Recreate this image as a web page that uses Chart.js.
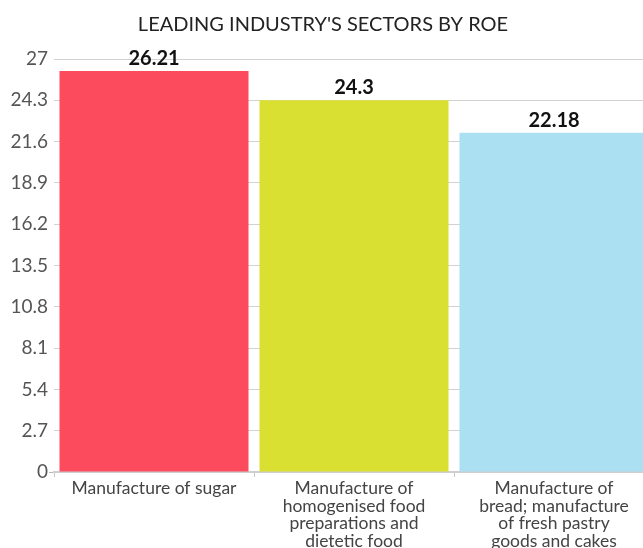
<!DOCTYPE html>
<html>
<head>
<meta charset="utf-8">
<script src="https://cdn.jsdelivr.net/npm/chart.js@4"></script>
<style>
  html, body { margin: 0; padding: 0; background: #fff; overflow: hidden; width: 643px; height: 548px; }
  #wrap { position: absolute; left: -8px; top: 0; width: 662px; height: 560px; }
</style>
</head>
<body>
<div id="wrap"><canvas id="c" width="662" height="560"></canvas></div>
<script>
const titleText = "LEADING INDUSTRY'S SECTORS BY ROE";
const categories = [
  "Manufacture of sugar",
  ["Manufacture of", "homogenised food", "preparations and", "dietetic food"],
  ["Manufacture of", "bread; manufacture", "of fresh pastry", "goods and cakes"]
];
const roeValues = [26.21, 24.3, 22.18];
const barColors = ["#FB4B5C", "#D9E031", "#ABE0F2"];
const yTickValues = [0, 2.7, 5.4, 8.1, 10.8, 13.5, 16.2, 18.9, 21.6, 24.3, 27];
const yTickLabels = ["0", "2.7", "5.4", "8.1", "10.8", "13.5", "16.2", "18.9", "21.6", "24.3", "27"];

const FONT = "Lato, 'Open Sans', sans-serif";

const valueLabels = {
  id: 'valueLabels',
  afterDatasetsDraw(chart) {
    const ctx = chart.ctx;
    const meta = chart.getDatasetMeta(0);
    ctx.save();
    ctx.font = "bold 20px " + FONT;
    ctx.fillStyle = "#111";
    ctx.textAlign = "center";
    ctx.textBaseline = "alphabetic";
    meta.data.forEach((el, i) => {
      ctx.fillText(String(roeValues[i]), el.x, el.y - 6);
    });
    ctx.restore();
  }
};

new Chart(document.getElementById('c'), {
  type: 'bar',
  data: {
    labels: categories,
    datasets: [{
      data: roeValues,
      backgroundColor: barColors,
      borderWidth: 0,
      categoryPercentage: 1,
      barPercentage: 0.945
    }]
  },
  options: {
    responsive: false,
    animation: false,
    devicePixelRatio: 1,
    layout: { padding: 0 },
    plugins: {
      legend: { display: false },
      tooltip: { enabled: false },
      title: {
        display: true,
        text: titleText,
        color: "#222",
        font: { family: FONT, size: 20, weight: 'normal', lineHeight: 1.2 },
        padding: { top: 13, bottom: 22 }
      }
    },
    scales: {
      x: {
        offset: true,
        afterFit(axis) { axis.height = 88; },
        grid: {
          display: true,
          drawOnChartArea: false,
          drawTicks: true,
          tickLength: 5,
          color: "#c8c8c8",
          offset: true
        },
        border: { display: true, color: "#cfcfcf", width: 2 },
        ticks: {
          color: "#444",
          autoSkip: false,
          maxRotation: 0,
          minRotation: 0,
          padding: 3,
          font: { family: FONT, size: 17.5, lineHeight: 1.0 }
        }
      },
      y: {
        min: 0,
        max: 27,
        afterFit(axis) { axis.width = 62; },
        afterBuildTicks(axis) { axis.ticks = yTickValues.map(v => ({ value: v })); },
        grid: {
          color: "#d2d2d2",
          lineWidth: 1,
          drawTicks: true,
          tickLength: 5,
          tickColor: (c) => (c.index === 0 ? "#b8b8b8" : "rgba(0,0,0,0)")
        },
        border: { display: false },
        ticks: {
          color: "#555",
          padding: 1,
          font: { family: FONT, size: 19 },
          callback: (v, i) => yTickLabels[i]
        }
      }
    }
  },
  plugins: [valueLabels]
});
</script>
</body>
</html>
